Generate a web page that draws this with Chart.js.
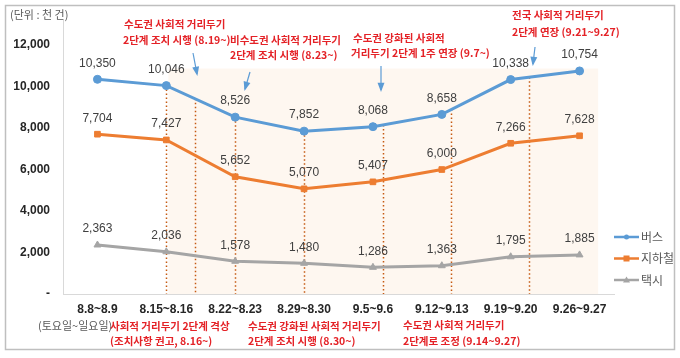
<!DOCTYPE html>
<html>
<head>
<meta charset="utf-8">
<script src="https://cdn.jsdelivr.net/npm/chart.js@4"></script>
<style>
  html, body { margin: 0; padding: 0; background: #fff; }
  #wrap { width: 680px; height: 358px; }
</style>
</head>
<body>
<div id="wrap"><canvas id="ridesChart" width="680" height="358"></canvas></div>
<script>
// weekend ride counts (unit: thousand)
const weeks = ['8.8~8.9', '8.15~8.16', '8.22~8.23', '8.29~8.30', '9.5~9.6', '9.12~9.13', '9.19~9.20', '9.26~9.27'];
const bus = [10350, 10046, 8526, 7852, 8068, 8658, 10338, 10754];
const subway = [7704, 7427, 5652, 5070, 5407, 6000, 7266, 7628];
const taxi = [2363, 2036, 1578, 1480, 1286, 1363, 1795, 1885];
const yTicks = [0, 2000, 4000, 6000, 8000, 10000, 12000];

// policy change dates, as fractional week positions
const policyMarks = [1, 1.42, 2, 3, 4.14, 5.14, 6.26];
const shadeFrom = 1.03, shadeTo = 7.27, shadeTop = 10870;

const NUM = '"Liberation Sans Narrow", "Liberation Sans", sans-serif';
const KR = '"Noto Sans CJK KR", sans-serif';
const RED = '#E42227';
const BLUE = '#5B9BD5', ORANGE = '#ED7D31', GRAY = '#A5A5A5';

function busAt(f) {
    const i = Math.min(Math.floor(f), bus.length - 2);
    return bus[i] + (bus[i + 1] - bus[i]) * (f - i);
}

function arrow(ctx, x1, y1, x2, y2) {
    ctx.save();
    ctx.strokeStyle = BLUE;
    ctx.fillStyle = BLUE;
    ctx.lineWidth = 1.2;
    ctx.beginPath();
    ctx.moveTo(x1, y1);
    ctx.lineTo(x2, y2);
    ctx.stroke();
    const a = Math.atan2(y2 - y1, x2 - x1);
    ctx.beginPath();
    ctx.moveTo(x2 + Math.cos(a) * 2, y2 + Math.sin(a) * 2);
    ctx.lineTo(x2 - Math.cos(a - 0.45) * 8, y2 - Math.sin(a - 0.45) * 8);
    ctx.lineTo(x2 - Math.cos(a + 0.45) * 8, y2 - Math.sin(a + 0.45) * 8);
    ctx.closePath();
    ctx.fill();
    ctx.restore();
}

const decorations = {
    id: 'decorations',
    beforeDatasetsDraw(chart) {
        const { ctx, chartArea, scales: { x, y } } = chart;
        ctx.save();
        // shaded period of level-2 distancing
        const sx0 = x.getPixelForValue(shadeFrom), sx1 = x.getPixelForValue(shadeTo);
        const sy = y.getPixelForValue(shadeTop);
        ctx.fillStyle = '#FEF7F0';
        ctx.fillRect(sx0, sy, sx1 - sx0, chartArea.bottom - sy);
        // dotted date markers
        ctx.strokeStyle = '#C55A11';
        ctx.lineWidth = 1.5;
        ctx.setLineDash([1.5, 2.5]);
        policyMarks.forEach(f => {
            const px = Math.round(x.getPixelForValue(f)) + 0.5;
            ctx.beginPath();
            ctx.moveTo(px, y.getPixelForValue(busAt(f)));
            ctx.lineTo(px, chartArea.bottom);
            ctx.stroke();
        });
        ctx.restore();
    },
    afterDatasetsDraw(chart) {
        const { ctx } = chart;
        ctx.save();
        // value labels
        ctx.font = '12px ' + NUM;
        ctx.fillStyle = '#404040';
        ctx.textAlign = 'center';
        ctx.textBaseline = 'middle';
        chart.data.datasets.forEach((ds, di) => {
            chart.getDatasetMeta(di).data.forEach((pt, i) => {
                ctx.fillText(ds.data[i].toLocaleString('en-US'), pt.x, pt.y - 16);
            });
        });

        // annotations
        ctx.textAlign = 'left';
        ctx.font = 'bold 10.5px ' + KR;
        ctx.fillStyle = RED;
        const notes = [
            ['수도권 사회적 거리두기', 124, 24],
            ['2단계 조치 시행 (8.19~)', 123, 40],
            ['비수도권 사회적 거리두기', 230, 40],
            ['2단계 조치 시행 (8.23~)', 230, 55],
            ['수도권 강화된 사회적', 353, 38],
            ['거리두기 2단계 1주 연장 (9.7~)', 351, 53],
            ['전국 사회적 거리두기', 512, 15],
            ['2단계 연장 (9.21~9.27)', 512, 32],
            ['사회적 거리두기 2단계 격상', 110, 326],
            ['(조치사항 권고, 8.16~)', 110, 341],
            ['수도권 강화된 사회적 거리두기', 248, 326],
            ['2단계 조치 시행 (8.30~)', 248, 341],
            ['수도권 사회적 거리두기', 403, 325],
            ['2단계로 조정 (9.14~9.27)', 403, 341]
        ];
        notes.forEach(([t, nx, ny]) => ctx.fillText(t, nx, ny));

        ctx.font = '11px ' + KR;
        ctx.fillStyle = '#595959';
        ctx.fillText('(토요일~일요일)', 38, 326);
        ctx.fillText('(단위 : 천 건)', 10, 15);

        arrow(ctx, 193, 53, 197, 74);
        arrow(ctx, 250, 72, 245, 89);
        arrow(ctx, 381, 66, 381, 90);
        arrow(ctx, 535, 47, 533, 64);

        // legend
        const items = [['버스', BLUE, 'circle'], ['지하철', ORANGE, 'rect'], ['택시', GRAY, 'triangle']];
        ctx.font = '12px ' + KR;
        items.forEach(([label, color, shape], i) => {
            const ly = 237 + i * 21.5;
            ctx.strokeStyle = color;
            ctx.fillStyle = color;
            ctx.lineWidth = 2.5;
            ctx.beginPath();
            ctx.moveTo(614, ly);
            ctx.lineTo(639, ly);
            ctx.stroke();
            ctx.beginPath();
            if (shape === 'circle') ctx.arc(626.5, ly, 2.5, 0, Math.PI * 2);
            else if (shape === 'rect') ctx.rect(623.5, ly - 3, 6, 6);
            else { ctx.moveTo(626.5, ly - 3.5); ctx.lineTo(630, ly + 2.5); ctx.lineTo(623, ly + 2.5); ctx.closePath(); }
            ctx.fill();
            ctx.fillStyle = '#595959';
            ctx.fillText(label, 641, ly);
        });

        // outer frame
        ctx.strokeStyle = '#BFBFBF';
        ctx.lineWidth = 1.5;
        ctx.strokeRect(5.5, 5.5, 669, 344);
        ctx.restore();
    }
};

new Chart(document.getElementById('ridesChart'), {
    type: 'line',
    data: {
        labels: weeks,
        datasets: [
            { label: '버스', data: bus, borderColor: BLUE, backgroundColor: BLUE, pointStyle: 'circle' },
            { label: '지하철', data: subway, borderColor: ORANGE, backgroundColor: ORANGE, pointStyle: 'rect' },
            { label: '택시', data: taxi, borderColor: GRAY, backgroundColor: GRAY, pointStyle: 'triangle' }
        ]
    },
    options: {
        responsive: false,
        animation: false,
        elements: {
            line: { borderWidth: 3, tension: 0 },
            point: { radius: 4, borderWidth: 1 }
        },
        layout: { padding: { left: 0, top: 13, right: 66, bottom: 0 } },
        plugins: { legend: { display: false }, tooltip: { enabled: false } },
        scales: {
            x: {
                offset: true,
                grid: { display: false, drawTicks: false },
                border: { display: true, color: '#D9D9D9' },
                ticks: { padding: 8, color: '#262626', font: { family: NUM, size: 12, weight: 'bold' }, maxRotation: 0, autoSkip: false },
                afterFit(s) { s.height = 64; }
            },
            y: {
                min: 0,
                max: 13200,
                afterBuildTicks(s) { s.ticks = yTicks.map(v => ({ value: v })); },
                grid: { display: false, drawTicks: false },
                border: { display: true, color: '#D9D9D9' },
                ticks: {
                    padding: 13,
                    color: '#262626',
                    font: { family: NUM, size: 12, weight: 'bold' },
                    callback: v => v === 0 ? '-' : v.toLocaleString('en-US')
                },
                afterFit(s) { s.width = 63; }
            }
        }
    },
    plugins: [decorations]
});
</script>
</body>
</html>
